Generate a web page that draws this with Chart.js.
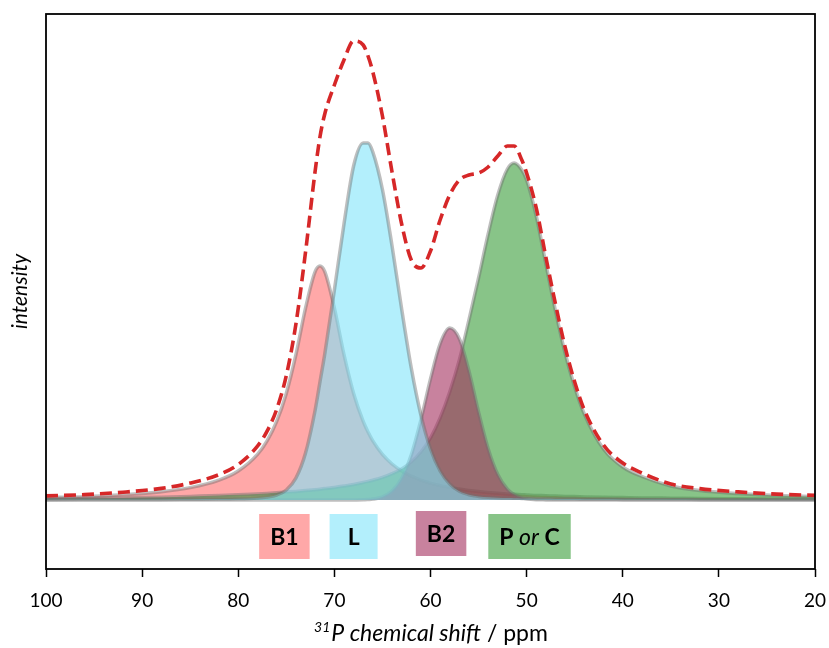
<!DOCTYPE html>
<html>
<head>
<meta charset="utf-8">
<script src="https://cdn.jsdelivr.net/npm/chart.js@4.4.1/dist/chart.umd.min.js"></script>
<style>
  html, body { margin: 0; padding: 0; background: #ffffff; }
  canvas { display: block; }
</style>
</head>
<body>
<canvas id="chart" width="829" height="648"></canvas>
<script>
// ---- data (intensity in arbitrary units, baseline = 0) ----
const ppm = [100, 96, 92, 88, 85, 82, 80, 78, 77, 76,
             75, 74, 73, 72, 71.5, 71, 70, 69, 68, 67,
             66.5, 66, 65, 64, 63, 62, 61, 60, 59, 58,
             57, 56, 55, 54, 53, 52, 51.3, 50.5, 50, 49,
             48, 47, 46, 45, 44, 42, 40, 38, 35, 32,
             28, 24, 20];

const seriesNames = ['B1', 'L', 'B2', 'P or C'];

const b1Values = [2.4, 3.3, 5.2, 8.3, 12.4, 19.9, 29.0, 45.6, 59.2, 78.6,
                  106.6, 145.3, 191.8, 228.4, 234, 228.4, 191.8, 145.3, 106.6, 78.6,
                  68.0, 59.2, 45.6, 36.0, 29.0, 23.8, 19.9, 16.8, 14.4, 12.4,
                  10.9, 9.6, 8.5, 7.6, 6.8, 6.1, 5.7, 5.3, 5.1, 4.6,
                  4.3, 3.9, 3.6, 3.4, 3.1, 2.7, 2.4, 2.1, 1.8, 1.5,
                  1.3, 1.1, 0.9];

const lValues = [0.3, 0.4, 0.5, 0.6, 0.8, 1.0, 1.2, 2.0, 3.0, 5.0,
                 10, 22, 47, 90, 118, 146, 210, 276, 334, 357,
                 357, 348, 310.5, 254, 191, 132, 85, 51, 29, 16,
                 8.8, 5.3, 3.6, 2.7, 2.2, 1.9, 1.75, 1.6, 1.5, 1.35,
                 1.2, 1.1, 1.0, 0.9, 0.85, 0.7, 0.6, 0.5, 0.45, 0.35,
                 0.3, 0.25, 0.2];

const b2Values = [0, 0, 0, 0, 0, 0, 0, 0, 0, 0,
                  0, 0, 0, 0, 0, 0, 0, 0, 0.1, 0.2,
                  0.5, 0.9, 3.1, 8.9, 21.7, 45.1, 80.0, 121.1, 156.2, 171.9,
                  161.3, 129.0, 88.0, 51.2, 25.4, 10.8, 5.4, 2.2, 1.2, 0.3,
                  0.1, 0, 0, 0, 0, 0, 0, 0, 0, 0,
                  0, 0, 0];

const pcValues = [1.4, 1.7, 2.1, 2.7, 3.6, 4.5, 5.2, 6.1, 6.6, 7.2,
                  7.9, 8.6, 9.4, 10.3, 10.8, 11.4, 12.6, 14.0, 15.5, 17.5,
                  18.6, 19.8, 22.6, 26.3, 31, 38, 48, 62, 82, 108,
                  140, 180, 222, 266, 305, 331, 337, 330, 320, 284,
                  236, 189, 147, 113, 86, 51, 33, 23.5, 14, 9.5,
                  6.5, 4.6, 3.5];

const totalValues = [4.1, 5.4, 7.8, 11.6, 16.9, 25.4, 35.5, 53.8, 68.8, 90.8,
                     124.5, 176, 248, 329, 363, 386, 415, 440, 459, 455,
                     444, 428, 384, 328, 276, 240, 232, 249, 280, 305,
                     320, 325, 327, 333, 344, 354, 354, 340, 327, 292,
                     243, 196, 153, 118, 90, 55, 37, 27, 16, 11.4,
                     8.1, 5.9, 4.6];

const xTickValues = [100, 90, 80, 70, 60, 50, 40, 30, 20];

// ---- styling ----
const fillColors = ['rgba(255,110,110,0.6)', 'rgba(128,228,250,0.6)',
                    'rgba(163,47,93,0.6)', 'rgba(57,157,57,0.6)'];
const drawOrder = [5, 2, 3, 4];           // lower number = drawn on top
const labelAnchors = [                     // where each label box sits (ppm, intensity)
  { ppm: 75.2, y: -36.5 },
  { ppm: 68.0, y: -36.5 },
  { ppm: 58.9, y: -33.5 },
  { ppm: 49.7, y: -36.5 }
];

const toPoints = vals => ppm.map((p, i) => ({ x: p, y: vals[i] }));
const componentValues = [b1Values, lValues, b2Values, pcValues];

const datasets = componentValues.map((vals, i) => ({
  label: seriesNames[i],
  data: toPoints(vals),
  backgroundColor: fillColors[i],
  borderColor: 'rgba(110,110,110,0.45)',
  borderWidth: 3.5,
  fill: 'origin',
  pointRadius: 0,
  cubicInterpolationMode: 'monotone',
  order: drawOrder[i]
}));
datasets.push({
  label: 'sum',
  data: toPoints(totalValues),
  borderColor: '#d62728',
  borderWidth: 3.6,
  borderDash: [12, 6],
  fill: false,
  pointRadius: 0,
  cubicInterpolationMode: 'monotone',
  order: 1
});

const FONT = 'Lato, "Open Sans", sans-serif';

const framePlugin = {
  id: 'frame',
  afterDatasetsDraw(chart) {
    const { ctx, chartArea: a } = chart;
    ctx.save();
    ctx.strokeStyle = '#000';
    ctx.lineWidth = 1.8;
    ctx.strokeRect(a.left, a.top, a.right - a.left, a.bottom - a.top);
    ctx.restore();
  }
};

const labelPlugin = {
  id: 'peakLabels',
  afterDatasetsDraw(chart) {
    const { ctx, scales: { x, y } } = chart;
    ctx.save();
    seriesNames.forEach((name, i) => {
      const cx = x.getPixelForValue(labelAnchors[i].ppm);
      const cy = y.getPixelForValue(labelAnchors[i].y);
      let parts;
      if (name.includes(' or ')) {
        const [a, b] = name.split(' or ');
        parts = [{ t: a + ' ', f: 'bold 23px ' + FONT }, { t: 'or', f: 'italic 23px ' + FONT }, { t: ' ' + b, f: 'bold 23px ' + FONT }];
      } else {
        parts = [{ t: name, f: 'bold 23px ' + FONT }];
      }
      let tw = 0;
      parts.forEach(p => { ctx.font = p.f; p.w = ctx.measureText(p.t).width; tw += p.w; });
      const w = Math.max(48, tw + 22), h = 45;
      ctx.fillStyle = fillColors[i];
      ctx.fillRect(cx - w / 2, cy - h / 2, w, h);
      ctx.fillStyle = '#000';
      ctx.textBaseline = 'middle';
      ctx.textAlign = 'left';
      let px = cx - tw / 2;
      parts.forEach(p => { ctx.font = p.f; ctx.fillText(p.t, px, cy + 1); px += p.w; });
    });
    ctx.restore();
  }
};

const titlePlugin = {
  id: 'axisTitles',
  afterDraw(chart) {
    const { ctx, chartArea: a } = chart;
    ctx.save();
    ctx.fillStyle = '#000';
    // y title
    ctx.translate(20, (a.top + a.bottom) / 2);
    ctx.rotate(-Math.PI / 2);
    ctx.font = 'italic 21px ' + FONT;
    ctx.textAlign = 'center';
    ctx.textBaseline = 'middle';
    ctx.fillText('intensity', 0, 0);
    ctx.restore();

    // x title with superscript and mixed styles
    ctx.save();
    ctx.fillStyle = '#000';
    ctx.textBaseline = 'alphabetic';
    ctx.textAlign = 'left';
    const parts = [
      { t: '31', f: 'italic 14px ' + FONT, dy: -9 },
      { t: 'P chemical shift', f: 'italic 23px ' + FONT, dy: 0 },
      { t: ' / ppm', f: '23px ' + FONT, dy: 0 }
    ];
    let tw = 0;
    parts.forEach(p => { ctx.font = p.f; p.w = ctx.measureText(p.t).width; tw += p.w; });
    let px = (a.left + a.right) / 2 - tw / 2;
    const base = 641;
    parts.forEach(p => { ctx.font = p.f; ctx.fillText(p.t, px, base + p.dy); px += p.w + (p.t === '31' ? 1 : 0); });
    ctx.restore();
  }
};

new Chart(document.getElementById('chart'), {
  type: 'line',
  data: { datasets },
  options: {
    responsive: false,
    animation: false,
    devicePixelRatio: 1,
    layout: { padding: { left: 46, right: 14, top: 14, bottom: 0 } },
    plugins: { legend: { display: false }, tooltip: { enabled: false } },
    scales: {
      x: {
        type: 'linear',
        reverse: true,
        min: 20,
        max: 100,
        afterBuildTicks: s => { s.ticks = xTickValues.map(v => ({ value: v })); },
        afterFit: s => { s.height = 79; s.paddingLeft = 0; s.paddingRight = 0; },
        grid: { display: true, drawOnChartArea: false, drawTicks: true, tickLength: 8, tickColor: '#000', tickWidth: 1.5 },
        border: { display: false },
        ticks: { color: '#000', font: { family: FONT, size: 19 }, padding: 12, maxRotation: 0, autoSkip: false }
      },
      y: {
        display: false,
        min: -69,
        max: 486
      }
    }
  },
  plugins: [framePlugin, labelPlugin, titlePlugin]
});
</script>
</body>
</html>
